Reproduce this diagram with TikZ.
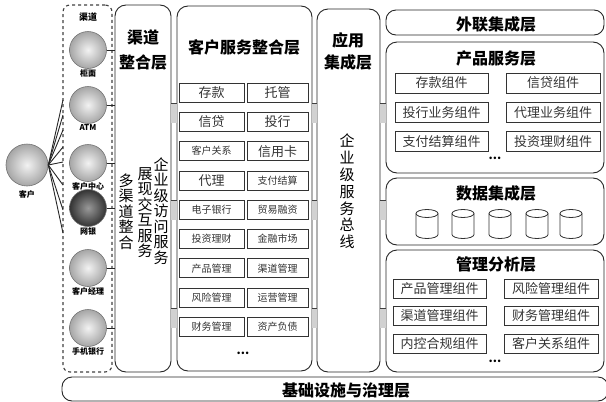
\documentclass[tikz,border=0pt]{standalone}
\usepackage{fontspec}
\setmainfont{Noto Sans CJK SC}
\usetikzlibrary{shapes.geometric,positioning,calc}

\newcommand{\fsz}[1]{\fontsize{#1}{#1}\selectfont}
% database drum around a named coordinate
\newcommand{\drum}[1]{%
    \draw[dbline] ($(#1)+(-11,-10)$) -- ($(#1)+(-11,11)$) arc[start angle=180, end angle=360, x radius=11pt, y radius=4pt] -- ($(#1)+(11,-10)$);
    \draw[dbline] ($(#1)+(0,-10)$) ellipse[x radius=11pt, y radius=4pt];
}

\begin{document}
\begin{tikzpicture}[x=1pt, y=-1pt,
    layer/.style={draw=black!85, line width=0.9pt, rounded corners=11pt, inner sep=0pt},
    title/.style={font=\fsz{16}\bfseries, align=center, inner sep=0pt},
    vtext/.style={font=\fontsize{15}{15.5}\selectfont, align=center, inner sep=0pt},
    comp/.style={draw=black!80, line width=0.7pt, inner sep=0pt, minimum height=19, text=black!80, font=\fsz{13}},
    bar/.style={draw=black!75, line width=0.7pt, double=black!18, double distance=19pt},
    chan/.style={circle, draw=black!55, line width=0.6pt, minimum size=37, inner color=black!5, outer color=black!35},
    chlabel/.style={font=\fsz{8}\bfseries, inner sep=0.5pt},
    link/.style={draw=black!85, line width=0.9pt},
    dbline/.style={draw=black!80, line width=0.8pt}
]
    \useasboundingbox (0,0) rectangle (606,402);

    % Customer and channels
    \node[chan, minimum size=42] (cust) at (27,165) {};
    \node[chlabel, below=4pt of cust] (custl) {客户};

    \node[draw=black!75, line width=1.1pt, dashed, rounded corners=7pt, minimum width=49, minimum height=367, inner sep=0pt] (chbox) at (87.5,188.5) {};
    \node[chlabel, font=\fsz{9}\bfseries] (chboxl) at (88,17) {渠道};

    \node[chan] (ch1) at (88,50) {};
    \node[chan] (ch2) at (88,105) {};
    \node[chan] (ch3) at (88,163) {};
    \node[chan, inner color=black!40, outer color=black!80] (ch4) at (88,208) {};
    \node[chan] (ch5) at (88,268) {};
    \node[chan] (ch6) at (88,328) {};
    \node[chlabel, below=0pt of ch1] (ch1l) {柜面};
    \node[chlabel, below=0pt of ch2] (ch2l) {ATM};
    \node[chlabel, below=0pt of ch3] (ch3l) {客户中心};
    \node[chlabel, below=0pt of ch4] (ch4l) {网银};
    \node[chlabel, below=0pt of ch5] (ch5l) {客户经理};
    \node[chlabel, below=0pt of ch6] (ch6l) {手机银行};

    \coordinate (f1) at (63,100);
    \coordinate (f2) at (63,115);
    \coordinate (f3) at (63,130);
    \coordinate (f4) at (63,147);
    \coordinate (f5) at (63,162);
    \coordinate (f6) at (63,185);
    \coordinate (f7) at (63,210);
    \coordinate (f8) at (63,233);
    \draw[link] (cust.east) -- (f1);
    \draw[link] (cust.east) -- (f2);
    \draw[link] (cust.east) -- (f3);
    \draw[link] (cust.east) -- (f4);
    \draw[link] (cust.east) -- (f5);
    \draw[link] (cust.east) -- (f6);
    \draw[link] (cust.east) -- (f7);
    \draw[link] (cust.east) -- (f8);

    % Layers
    \node[layer, minimum width=56, minimum height=367] (chl) at (143,188.5) {};
    \node[layer, minimum width=135, minimum height=365] (csl) at (244.5,188.5) {};
    \node[layer, minimum width=63, minimum height=363] (apl) at (348.5,190.5) {};
    \node[layer, rounded corners=10pt, minimum width=218, minimum height=25] (ext) at (495,22.5) {};
    \node[layer, minimum width=218, minimum height=131] (psl) at (495,107.5) {};
    \node[layer, minimum width=218, minimum height=67] (dil) at (495,211.5) {};
    \node[layer, minimum width=218, minimum height=122] (mal) at (495,311) {};
    \node[layer, rounded corners=10pt, minimum width=546, minimum height=24] (inf) at (335,389) {};

    \draw[link] (ch1) -- (ch1 -| chl.west);
    \draw[link] (ch2) -- (ch2 -| chl.west);
    \draw[link] (ch3) -- (ch3 -| chl.west);
    \draw[link] (ch4) -- (ch4 -| chl.west);
    \draw[link] (ch5) -- (ch5 -| chl.west);
    \draw[link] (ch6) -- (ch6 -| chl.west);

    % Interfaces between layers
    \coordinate (r1) at (0,113);
    \coordinate (r2) at (0,210);
    \coordinate (r3) at (0,318);
    \draw[bar] (chl.east |- r1) -- (csl.west |- r1);
    \draw[bar] (csl.east |- r1) -- (apl.west |- r1);
    \draw[bar] (apl.east |- r1) -- (psl.west |- r1);
    \draw[bar] (chl.east |- r2) -- (csl.west |- r2);
    \draw[bar] (csl.east |- r2) -- (apl.west |- r2);
    \draw[bar] (apl.east |- r2) -- (dil.west |- r2);
    \draw[bar] (chl.east |- r3) -- (csl.west |- r3);
    \draw[bar] (csl.east |- r3) -- (apl.west |- r3);
    \draw[bar] (apl.east |- r3) -- (mal.west |- r3);

    % Titles
    \node[title, font=\fontsize{16}{25}\selectfont\bfseries] (chlt) at (143,50) {渠道\\整合层};
    \node[title] (cslt) at (244,47) {客户服务整合层};
    \node[title, font=\fontsize{16}{22}\selectfont\bfseries] (aplt) at (348,51) {应用\\集成层};
    \node[title] (extt) at (496,24) {外联集成层};
    \node[title] (pslt) at (496,58) {产品服务层};
    \node[title] (dilt) at (496,193) {数据集成层};
    \node[title] (malt) at (496,264) {管理分析层};
    \node[title] (inft) at (346,390) {基础设施与治理层};

    \node[vtext] (cv1) at (161,211) {企\\业\\级\\访\\问\\服\\务};
    \node[vtext] (cv2) at (145,212.5) {展\\现\\交\\互\\服\\务};
    \node[vtext] (cv3) at (126,211.5) {多\\渠\\道\\整\\合};
    \node[vtext, font=\fontsize{15}{16.8}\selectfont] (av) at (347,191.5) {企\\业\\级\\服\\务\\总\\线};

    % Customer service modules
    \node[comp, minimum width=65] (cs1) at (211.5,92.5) {存款};
    \node[comp, minimum width=61] (cs2) at (277.5,92.5) {托管};
    \node[comp, minimum width=65] (cs3) at (211.5,121.8) {信贷};
    \node[comp, minimum width=61] (cs4) at (277.5,121.8) {投行};
    \node[comp, minimum width=65, font=\fsz{10}] (cs5) at (211.5,151.1) {客户关系};
    \node[comp, minimum width=61] (cs6) at (277.5,151.1) {信用卡};
    \node[comp, minimum width=65] (cs7) at (211.5,180.4) {代理};
    \node[comp, minimum width=61, font=\fsz{10}] (cs8) at (277.5,180.4) {支付结算};
    \node[comp, minimum width=65, font=\fsz{10}] (cs9) at (211.5,209.7) {电子银行};
    \node[comp, minimum width=61, font=\fsz{10}] (cs10) at (277.5,209.7) {贸易融资};
    \node[comp, minimum width=65, font=\fsz{10}] (cs11) at (211.5,239) {投资理财};
    \node[comp, minimum width=61, font=\fsz{10}] (cs12) at (277.5,239) {金融市场};
    \node[comp, minimum width=65, font=\fsz{10}] (cs13) at (211.5,268.3) {产品管理};
    \node[comp, minimum width=61, font=\fsz{10}] (cs14) at (277.5,268.3) {渠道管理};
    \node[comp, minimum width=65, font=\fsz{10}] (cs15) at (211.5,297.6) {风险管理};
    \node[comp, minimum width=61, font=\fsz{10}] (cs16) at (277.5,297.6) {运营管理};
    \node[comp, minimum width=65, font=\fsz{10}] (cs17) at (211.5,326.9) {财务管理};
    \node[comp, minimum width=61, font=\fsz{10}] (cs18) at (277.5,326.9) {资产负债};
    \node[font=\fsz{12}\bfseries] (csdots) at (243,353) {...};

    % Product services
    \node[comp, minimum width=93, minimum height=20] (ps1) at (441.5,83) {存款组件};
    \node[comp, minimum width=94, minimum height=20] (ps2) at (553,83) {信贷组件};
    \node[comp, minimum width=93, minimum height=20] (ps3) at (441.5,112.5) {投行业务组件};
    \node[comp, minimum width=94, minimum height=20] (ps4) at (553,112.5) {代理业务组件};
    \node[comp, minimum width=93, minimum height=20] (ps5) at (441.5,141.5) {支付结算组件};
    \node[comp, minimum width=94, minimum height=20] (ps6) at (553,141.5) {投资理财组件};
    \node[font=\fsz{12}\bfseries] (psdots) at (495,158) {...};

    % Data integration
    \coordinate (db1) at (427,223.5);
    \coordinate (db2) at (463,223.5);
    \coordinate (db3) at (500,223.5);
    \coordinate (db4) at (537,223.5);
    \coordinate (db5) at (571,223.5);
    \drum{db1}
    \drum{db2}
    \drum{db3}
    \drum{db4}
    \drum{db5}

    % Management analysis
    \node[comp, minimum width=93] (ma1) at (439.5,289) {产品管理组件};
    \node[comp, minimum width=94] (ma2) at (551,289) {风险管理组件};
    \node[comp, minimum width=93] (ma3) at (439.5,316) {渠道管理组件};
    \node[comp, minimum width=94] (ma4) at (551,316) {财务管理组件};
    \node[comp, minimum width=93] (ma5) at (439.5,343.5) {内控合规组件};
    \node[comp, minimum width=94] (ma6) at (551,343.5) {客户关系组件};
    \node[font=\fsz{12}\bfseries] (madots) at (495,361) {...};
\end{tikzpicture}
\end{document}
